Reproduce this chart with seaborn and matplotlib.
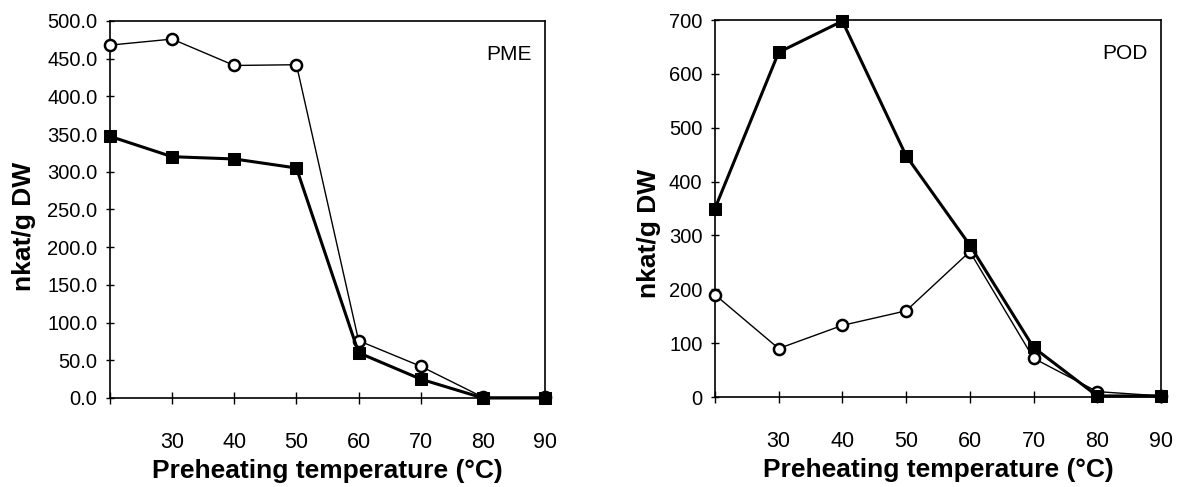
import numpy as np
import pandas as pd
import matplotlib
matplotlib.use("Agg")
import matplotlib.pyplot as plt
import seaborn as sns

# preheating temperatures (deg C)
temperatura = [20, 30, 40, 50, 60, 70, 80, 90]
rotulos_x = ["", "30", "40", "50", "60", "70", "80", "90"]

# PME activity (nkat/g DW)
pme_circulo = [468, 476, 441, 442, 76, 42, 1, 1]
pme_quadrado = [347, 320, 317, 305, 60, 25, 0, 0]

# POD activity (nkat/g DW)
pod_quadrado = [350, 640, 698, 448, 282, 92, 2, 2]
pod_circulo = [190, 90, 133, 160, 270, 72, 10, 2]


def desenhar_painel(ax, quadrado, circulo, nome, yticks, fmt, ylabel_x, ylabel_y):
    df = pd.DataFrame({"temp": temperatura, "quadrado": quadrado, "circulo": circulo})
    sns.lineplot(data=df, x="temp", y="circulo", ax=ax, color="black", linewidth=1.0,
                 marker="o", markersize=8, markerfacecolor="white",
                 markeredgecolor="black", markeredgewidth=1.8, zorder=3, clip_on=False)
    sns.lineplot(data=df, x="temp", y="quadrado", ax=ax, color="black", linewidth=2.2,
                 marker="s", markersize=9, markerfacecolor="black",
                 markeredgecolor="black", zorder=4, clip_on=False)

    ax.set_xlim(20, 90)
    ax.set_ylim(yticks[0], yticks[-1])
    ax.set_xticks(temperatura)
    ax.set_xticklabels(rotulos_x, fontsize=15.5)
    ax.set_yticks(yticks)
    ax.set_yticklabels([fmt.format(v) for v in yticks], fontsize=14.5)
    ax.tick_params(axis="x", direction="inout", length=9, width=1, pad=20, colors="black")
    ax.tick_params(axis="y", direction="inout", length=6, width=1, pad=6, colors="black")
    for lado in ["top", "right", "left", "bottom"]:
        ax.spines[lado].set_visible(True)
        ax.spines[lado].set_color("black")
        ax.spines[lado].set_linewidth(1.2)

    ax.set_xlabel("Preheating temperature (°C)", fontsize=19, fontweight="bold", color="black")
    ax.set_ylabel("nkat/g DW", fontsize=19, fontweight="bold", color="black")
    ax.xaxis.set_label_coords(0.5, -0.163)
    ax.yaxis.set_label_coords(ylabel_x, ylabel_y)
    ax.text(0.97, 0.912, nome, transform=ax.transAxes, ha="right", va="center",
            fontsize=15, color="black")
    ax.grid(False)


sns.set_style("ticks")
plt.rcParams["font.family"] = ["Liberation Sans", "DejaVu Sans"]
plt.rcParams["text.color"] = "black"

fig = plt.figure(figsize=(11.79, 4.87), dpi=100)
ax1 = fig.add_axes([0.0933, 0.1828, 0.3690, 0.7741])
ax2 = fig.add_axes([0.6064, 0.1848, 0.3783, 0.7741])

desenhar_painel(ax1, pme_quadrado, pme_circulo, "PME",
                list(np.arange(0, 501, 50)), "{:.1f}", -0.170, 0.456)
desenhar_painel(ax2, pod_quadrado, pod_circulo, "POD",
                list(range(0, 701, 100)), "{:.0f}", -0.121, 0.435)

fig.savefig("out.png", dpi=100)
